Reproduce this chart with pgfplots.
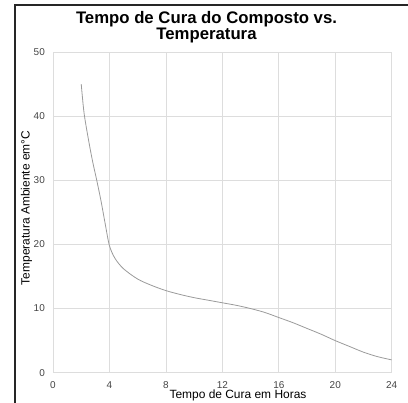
\documentclass[border=0pt]{standalone}
\usepackage{pgfplots}
\pgfplotsset{compat=1.18}
\usepackage{fontspec}
\setmainfont{Liberation Sans}
\definecolor{gridgray}{HTML}{DDDDDD}
\definecolor{curvegray}{HTML}{9A9A9A}
\definecolor{ticktext}{HTML}{444444}
\begin{document}
\begin{tikzpicture}[x=1bp,y=1bp]
\useasboundingbox (0,0) rectangle (408,403);
% moldura
\draw[line width=2bp,color=black!85] (15,0) -- (15,398) -- (408,398);
\begin{axis}[
    at={(53bp,30.3bp)},
    anchor=south west,
    scale only axis,
    width=338.7bp,
    height=320.7bp,
    xmin=0, xmax=24,
    ymin=0, ymax=50,
    xtick={0,4,...,24},
    ytick={0,10,...,50},
    grid=major,
    grid style={gridgray, line width=0.7bp},
    axis line style={gridgray, line width=0.7bp},
    major tick length=0pt,
    tick label style={font=\fontsize{10}{12}\selectfont, color=ticktext},
    /pgf/number format/assume math mode=true,
    yticklabel style={anchor=east, inner sep=0pt, xshift=-8bp},
    xticklabel style={anchor=north, inner sep=0pt, yshift=-8.5bp},
]
\addplot[curvegray, line width=0.8bp, smooth] coordinates {
    (2,45)(2.2,40.5)(2.5,36.5)(2.8,33)(3.1,30)(3.4,26.8)(3.7,23.2)(4,19.8)
    (4.4,17.8)(5,16.2)(6,14.6)(7,13.6)(8,12.8)(9,12.2)(10,11.7)(11,11.3)
    (12,10.9)(13,10.5)(14,10)(15,9.4)(16,8.6)(17,7.8)(18,6.9)(19,6)
    (20,5)(21,4.1)(22,3.2)(23,2.5)(24,2)
};
\end{axis}
\node[anchor=base, font=\fontsize{16.8}{18}\selectfont\bfseries] at (206.5,379.5) {Tempo de Cura do Composto vs.};
\node[anchor=base, font=\fontsize{16.8}{18}\selectfont\bfseries] at (206.5,363.5) {Temperatura};
\node[anchor=base, font=\fontsize{12}{14}\selectfont] at (238,4.5) {Tempo de Cura em Horas};
\node[anchor=base, rotate=90, font=\fontsize{12}{14}\selectfont] at (29.5,195) {Temperatura Ambiente em°C};
\end{tikzpicture}
\end{document}
